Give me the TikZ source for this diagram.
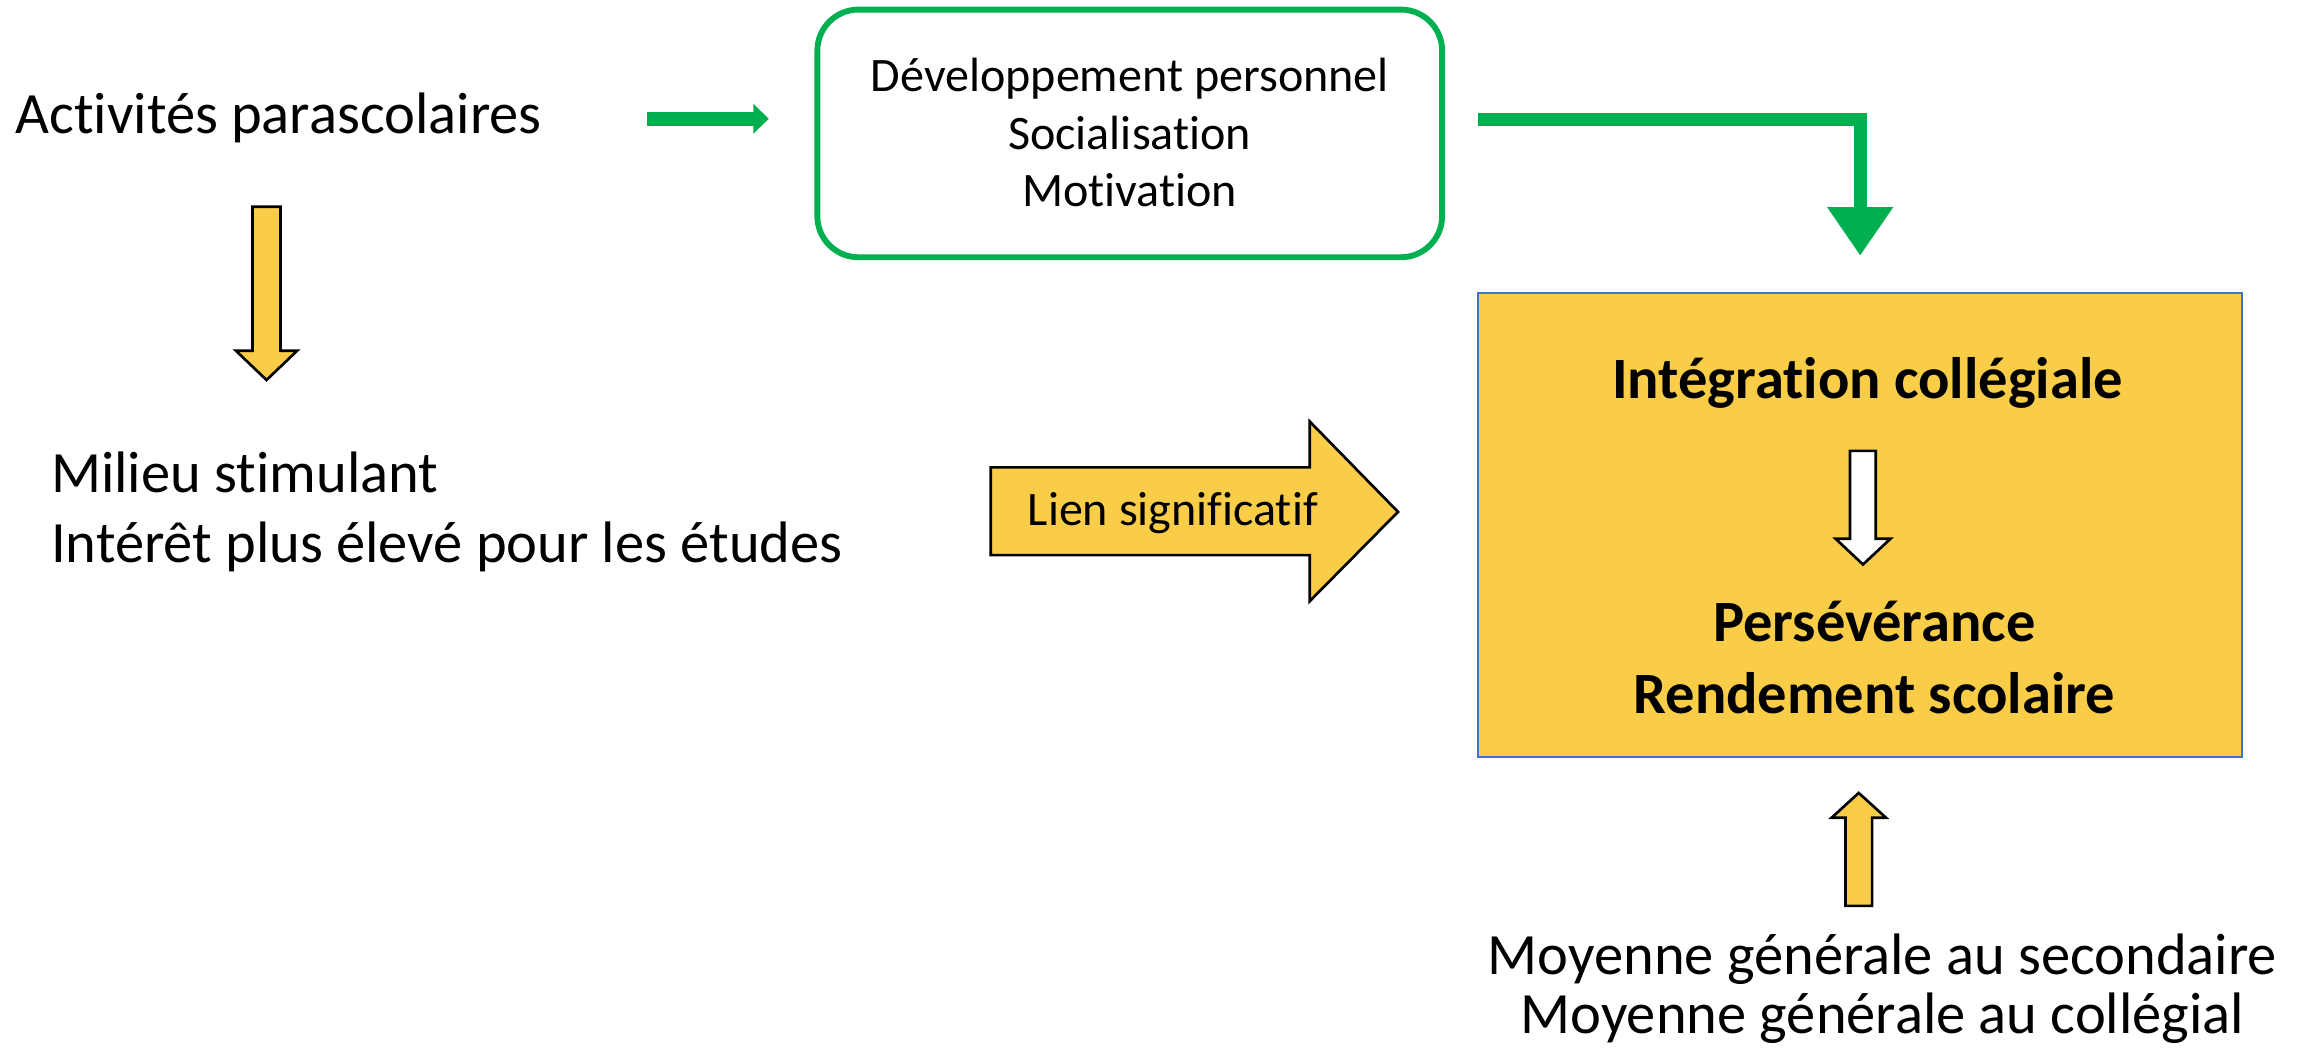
\documentclass[tikz,border=0pt]{standalone}
\usepackage{fontspec}
\setmainfont{Carlito}[Ligatures=NoCommon]
\usetikzlibrary{arrows.meta,calc}
\definecolor{ygold}{HTML}{FACD48}
\definecolor{pgreen}{HTML}{00B050}
\definecolor{bblue}{HTML}{4472C4}
\begin{document}
\begin{tikzpicture}[x=1pt,y=-1pt,
  big/.style={font=\fontsize{39.8}{47}\selectfont, inner sep=0pt},
  med/.style={font=\fontsize{32.7}{39}\selectfont, inner sep=0pt},
  bigb/.style={font=\fontsize{39.8}{47}\selectfont\bfseries, inner sep=0pt},
  blockarrow/.style={draw=black, line width=1.8pt, line join=miter},
  gconn/.style={draw=pgreen, line join=miter}
]
\useasboundingbox (0,0) rectangle (1568,716);

% left column texts
\node[big, anchor=base west] (act) at (10.4,90.7) {Activités parascolaires};
\node[big, anchor=base west] (mil1) at (34.6,335) {Milieu stimulant};
\node[big, anchor=base west] (mil2) at (34.6,382.6) {Intérêt plus élevé pour les études};

% green rounded box
\node[draw=pgreen, line width=4pt, rounded corners=28pt, minimum width=425pt, minimum height=168.5pt, inner sep=0pt] (dev) at (768.5,90.75) {};
\node[med, anchor=base] (dev1) at (768.5,62.4) {Développement personnel};
\node[med, anchor=base] (dev2) at (768.5,101.6) {Socialisation};
\node[med, anchor=base] (dev3) at (768.5,140.6) {Motivation};

% yellow box
\node[draw=bblue, fill=ygold, line width=1.3pt, minimum width=520pt, minimum height=315.7pt, inner sep=0pt] (integ) at (1265.4,356.95) {};
\node[bigb, anchor=base] (int1) at (1270.4,271) {Intégration collégiale};
\node[bigb, anchor=base] (pers) at (1275,436.6) {Persévérance};
\node[bigb, anchor=base] (rend) at (1275,485.6) {Rendement scolaire};

% bottom texts
\node[big, anchor=base] (moy1) at (1280.5,662.8) {Moyenne générale au secondaire};
\node[big, anchor=base] (moy2) at (1280.5,703) {Moyenne générale au collégial};

% green connectors
\coordinate (g1s) at (439.9,80.8);
\draw[gconn, line width=9.5pt, shorten >=31pt, -{Triangle[length=10.5pt,width=19.6pt]}] (g1s) -- (g1s -| dev.west);
\coordinate (g2s) at (1005.3,81.5);
\draw[gconn, line width=8.6pt, shorten >=24.5pt, -{Triangle[length=33pt,width=42.6pt]}] (g2s) -| (integ.north);

% yellow block arrow down (left)
\draw[blockarrow, fill=ygold] (171.8,140.6) -- (190.8,140.6) -- (190.8,238.6) -- (202.1,238.6) -- (181.3,258.5) -- (160.5,238.6) -- (171.8,238.6) -- cycle;

% big block arrow with label
\draw[blockarrow, fill=ygold] (674,317.9) -- (891,317.9) -- (891,286.8) -- (951,348.2) -- (891,408.9) -- (891,377.6) -- (674,377.6) -- cycle;
\node[med, anchor=base west] (lien) at (699,357.8) {Lien significatif};

% white arrow inside box
\draw[blockarrow, fill=white] (1258.5,306.7) -- (1276,306.7) -- (1276,366.5) -- (1286,366.5) -- (1267.3,384) -- (1248.7,366.5) -- (1258.5,366.5) -- cycle;

% up arrow
\draw[blockarrow, fill=ygold] (1264.4,539.4) -- (1283,556.3) -- (1273.5,556.3) -- (1273.5,616.2) -- (1255.4,616.2) -- (1255.4,556.3) -- (1245.9,556.3) -- cycle;
\end{tikzpicture}
\end{document}
